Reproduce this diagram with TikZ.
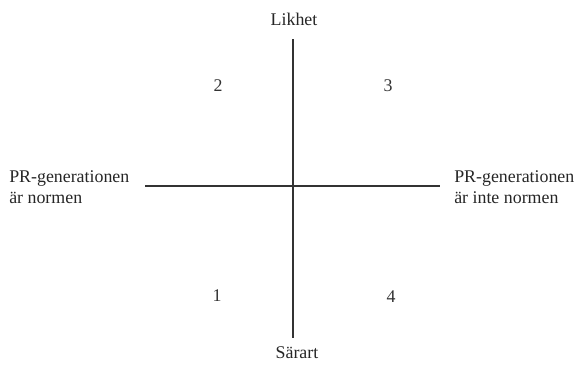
\documentclass[tikz,border=0pt]{standalone}
\usepackage{fontspec}
\setmainfont{Liberation Serif}
\usetikzlibrary{positioning}

\begin{document}
\begin{tikzpicture}[x=0.75pt, y=-0.75pt, font=\fontsize{13.4}{16}\selectfont,
  axis/.style={line width=1.4pt, black!80},
  lbl/.style={inner sep=0pt, text=black!85},
  num/.style={inner sep=0pt, text=black!80}]

  \useasboundingbox (0,0) rectangle (580,364);

  % Axis end points
  \coordinate (top) at (293,39);
  \coordinate (bot) at (293,338);
  \coordinate (lft) at (145,186);
  \coordinate (rgt) at (440,186);

  % Axes
  \draw[axis] (top) -- (bot);
  \draw[axis] (lft) -- (rgt);

  % Axis labels
  \node[lbl] (likhet) at (294,19) {Likhet};
  \node[lbl] (sarart) at (297,353) {Särart};
  \node[lbl, anchor=west, align=left] (norm) at (9,187) {PR-generationen\\är normen};
  \node[lbl, anchor=west, align=left] (intenorm) at (454,187) {PR-generationen\\är inte normen};

  % Quadrant numbers
  \node[num] (q2) at (218,86) {2};
  \node[num] (q3) at (388,86) {3};
  \node[num] (q1) at (217,296) {1};
  \node[num] (q4) at (391,297) {4};

\end{tikzpicture}
\end{document}
